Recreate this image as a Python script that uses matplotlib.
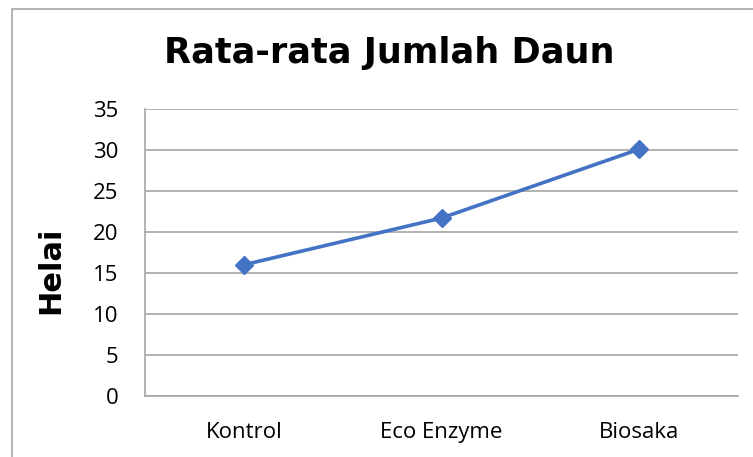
import matplotlib.pyplot as plt
from matplotlib.patches import Rectangle

# data
kategori = ['Kontrol', 'Eco Enzyme', 'Biosaka']
jumlah_daun = [16.0, 21.7, 30.1]
yticks = [0, 5, 10, 15, 20, 25, 30, 35]

W, H = 753, 457
fig = plt.figure(figsize=(W / 100, H / 100), dpi=100)

# frame of the chart (cut off on right and bottom)
fig.patches.append(Rectangle((12 / W, -0.1), 1.2, 1 - 9 / H + 0.1,
                             transform=fig.transFigure, fill=False,
                             edgecolor='#A6A6A6', linewidth=1.2))

ax = fig.add_axes([145 / W, 1 - 396 / H, (738 - 145) / W, (396 - 109) / H])

ax.plot(range(len(kategori)), jumlah_daun, color='#4472C4', linewidth=2.6,
        marker='D', markersize=9, zorder=3)

ax.set_xlim(-0.5, len(kategori) - 0.5)
ax.set_ylim(0, 35)
ax.set_yticks(yticks)
ax.set_xticks(range(len(kategori)))
ax.set_xticklabels(kategori)

ax.yaxis.grid(True, color='#A6A6A6', linewidth=1.2)
ax.set_axisbelow(True)
for s in ['top', 'right']:
    ax.spines[s].set_visible(False)
for s in ['left', 'bottom']:
    ax.spines[s].set_color('#A6A6A6')
    ax.spines[s].set_linewidth(1.2)
ax.tick_params(length=0, labelsize=16, colors='black')
ax.tick_params(axis='y', pad=19)
ax.tick_params(axis='x', pad=19)
for lab in ax.get_xticklabels() + ax.get_yticklabels():
    lab.set_family('Open Sans')

fig.text(389 / W, 1 - 53 / H, 'Rata-rata Jumlah Daun', ha='center', va='center',
         fontsize=25.3, fontweight='bold', family='DejaVu Sans')
fig.text(51 / W, 1 - 270 / H, 'Helai', ha='center', va='center', rotation=90,
         fontsize=22, fontweight='bold', family='DejaVu Sans')

fig.savefig('out.png', dpi=100)
